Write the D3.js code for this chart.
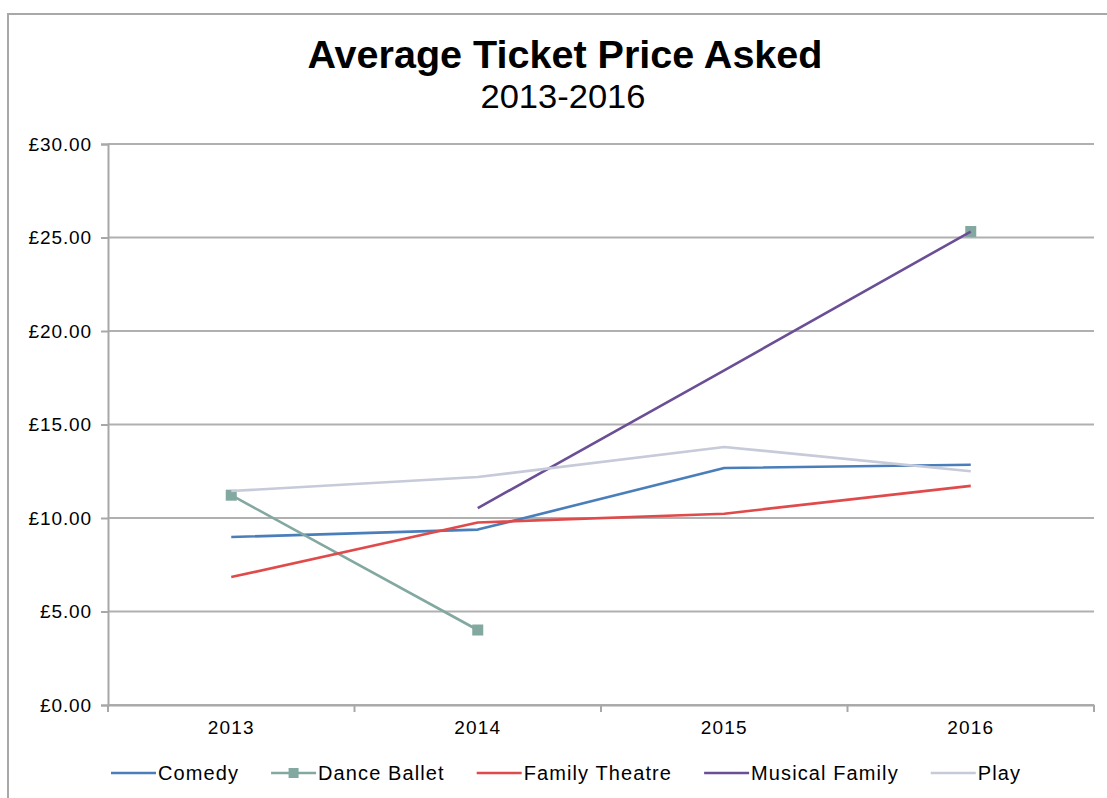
<!DOCTYPE html>
<html>
<head>
<meta charset="utf-8">
<script src="https://cdn.jsdelivr.net/npm/d3@7"></script>
<style>
  html, body { margin: 0; padding: 0; background: #fff; }
  svg { display: block; }
  text { font-family: "Liberation Sans", Arial, sans-serif; fill: #000; }
</style>
</head>
<body>
<svg id="chart" width="1107" height="798"></svg>
<script>
// ---- data ----
const years = ["2013", "2014", "2015", "2016"];
const seriesNames = ["Comedy", "Dance Ballet", "Family Theatre", "Musical Family", "Play"];
const comedy = [8.98, 9.38, 12.67, 12.85];
const danceBallet = [11.22, 4.01, null, 25.32];
const familyTheatre = [6.84, 9.76, 10.23, 11.72];
const musicalFamily = [null, 10.53, 17.9, 25.32];
const play = [11.44, 12.19, 13.8, 12.5];
const yTicks = [0, 5, 10, 15, 20, 25, 30];
const titleText = "Average Ticket Price Asked";
const subtitleText = "2013-2016";

// ---- styles ----
const colors = ["#4a7ebb", "#82a8a0", "#e04a4a", "#6b4f96", "#c6cad9"];
const hasMarker = [false, true, false, false, false];
const seriesValues = [comedy, danceBallet, familyTheatre, musicalFamily, play];
const series = seriesNames.map((n, i) => ({ name: n, values: seriesValues[i], color: colors[i], marker: hasMarker[i] }));

const svg = d3.select("#chart");
const margin = { left: 108, right: 1094, top: 144, bottom: 705 };

// frame (partially cropped)
svg.append("path")
  .attr("d", "M8,798 L8,14 L1107,14")
  .attr("fill", "none").attr("stroke", "#a8a8a8").attr("stroke-width", 2);

// title
svg.append("text").attr("x", 565).attr("y", 68).attr("text-anchor", "middle")
  .style("font-size", "39px").style("font-weight", "bold")
  .attr("textLength", 515).attr("lengthAdjust", "spacingAndGlyphs").text(titleText);
svg.append("text").attr("x", 563).attr("y", 108).attr("text-anchor", "middle")
  .style("font-size", "34px").attr("textLength", 165).attr("lengthAdjust", "spacingAndGlyphs")
  .text(subtitleText);

// scales
const x = d3.scaleBand().domain(years).range([margin.left, margin.right]).padding(0);
const y = d3.scaleLinear().domain([0, 30]).range([margin.bottom, margin.top]);
const cx = d => x(d) + x.bandwidth() / 2;

// gridlines
svg.append("g").selectAll("line").data(yTicks).join("line")
  .attr("x1", margin.left).attr("x2", margin.right)
  .attr("y1", d => y(d)).attr("y2", d => y(d))
  .attr("stroke", "#b0b0b0").attr("stroke-width", 2.2);

// y axis
const yAxis = svg.append("g").attr("transform", `translate(${margin.left},0)`)
  .call(d3.axisLeft(y).tickValues(yTicks).tickSize(7).tickPadding(9)
    .tickFormat(d => "£" + d3.format(".2f")(d)));
yAxis.select(".domain").attr("stroke", "#a8a8a8").attr("stroke-width", 2);
yAxis.selectAll(".tick line").attr("stroke", "#a8a8a8").attr("stroke-width", 2);
yAxis.selectAll(".tick text").style("font-size", "19px").style("letter-spacing", "0.9px")
  .style("font-family", "'Liberation Sans', Arial, sans-serif").attr("fill", "#000");

// x axis
const xAxis = svg.append("g").attr("transform", `translate(0,${margin.bottom})`)
  .call(d3.axisBottom(x).tickSize(0).tickPadding(16));
xAxis.select(".domain").attr("stroke", "#a8a8a8").attr("stroke-width", 2);
xAxis.selectAll(".tick text").style("font-size", "19px").style("letter-spacing", "1.2px")
  .style("font-family", "'Liberation Sans', Arial, sans-serif").attr("fill", "#000");
// boundary ticks between categories
const bounds = years.map(d => x(d)).concat([x(years[years.length - 1]) + x.bandwidth()]);
xAxis.append("g").selectAll("line").data(bounds).join("line")
  .attr("x1", d => d).attr("x2", d => d).attr("y1", 0).attr("y2", 7)
  .attr("stroke", "#a8a8a8").attr("stroke-width", 2);

// lines
const line = d3.line().defined(d => d.v != null).x(d => cx(d.year)).y(d => y(d.v));
series.forEach(s => {
  const pts = years.map((yr, i) => ({ year: yr, v: s.values[i] }));
  svg.append("path").datum(pts).attr("d", line)
    .attr("fill", "none").attr("stroke", s.color).attr("stroke-width", 2.6)
    .attr("stroke-linejoin", "round");
  if (s.marker) {
    svg.append("g").selectAll("rect").data(pts.filter(p => p.v != null)).join("rect")
      .attr("x", p => cx(p.year) - 5.5).attr("y", p => y(p.v) - 5.5)
      .attr("width", 11).attr("height", 11).attr("fill", s.color);
  }
});

// legend
const legend = svg.append("g");
let lx = 111;
const ly = 773;
series.forEach(s => {
  const g = legend.append("g");
  g.append("line").attr("x1", lx).attr("x2", lx + 45).attr("y1", ly).attr("y2", ly)
    .attr("stroke", s.color).attr("stroke-width", 2.6);
  if (s.marker) {
    g.append("rect").attr("x", lx + 22.5 - 5).attr("y", ly - 5).attr("width", 10).attr("height", 10)
      .attr("fill", s.color);
  }
  const t = g.append("text").attr("x", lx + 47).attr("y", ly + 7)
    .style("font-size", "20px").style("letter-spacing", "1.1px").text(s.name);
  lx = lx + 47 + t.node().getComputedTextLength() + 32;
});
</script>
</body>
</html>
